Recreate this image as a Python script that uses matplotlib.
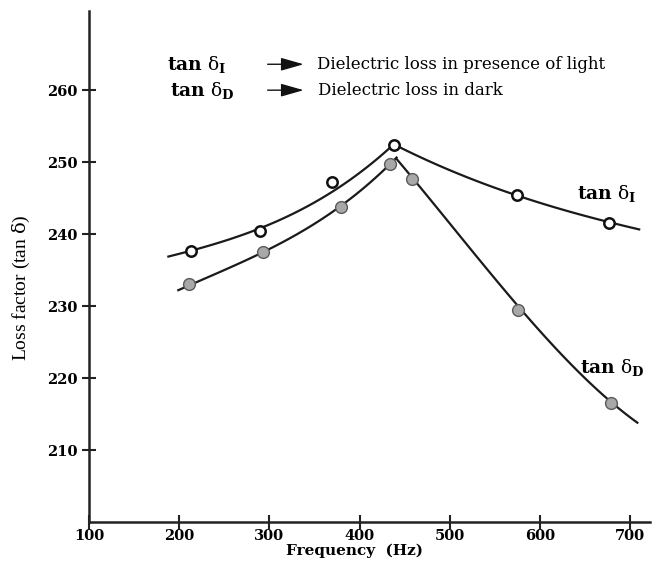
import numpy as np
import matplotlib
matplotlib.use('Agg')
from matplotlib import pyplot as plt

plt.rcParams['mathtext.fontset'] = 'custom'
plt.rcParams['mathtext.rm'] = 'DejaVu Serif'
plt.rcParams['mathtext.bf'] = 'DejaVu Serif:bold'
plt.rcParams['mathtext.it'] = 'DejaVu Serif:italic'

# measured points, tan delta in light (open circles)
freq_light = [213, 290, 369, 438, 574, 676]
loss_light = [237.6, 240.4, 247.2, 252.4, 245.4, 241.6]

# measured points, tan delta in dark (filled circles)
freq_dark = [211, 293, 379, 434, 458, 576, 679]
loss_dark = [233.0, 237.5, 243.8, 249.7, 247.6, 229.5, 216.6]

# drawn trend lines (two branches each)
trace_light_up_f = [188, 213, 255, 290, 337, 378, 410, 438]
trace_light_up_v = [236.9, 237.7, 239.1, 241.0, 243.5, 246.5, 249.5, 252.5]
trace_light_dn_f = [438, 500, 574, 622, 676, 710]
trace_light_dn_v = [252.5, 248.8, 245.5, 243.5, 241.6, 240.7]

trace_dark_up_f = [199, 211, 293, 337, 379, 410, 434, 441]
trace_dark_up_v = [232.1, 233.0, 237.5, 240.4, 243.8, 247.2, 249.7, 250.6]
trace_dark_dn_f = [441, 458, 500, 540, 576, 622, 679, 708]
trace_dark_dn_v = [250.6, 247.6, 241.7, 235.5, 229.5, 223.8, 216.6, 213.8]

xticks = [100, 200, 300, 400, 500, 600, 700]
yticks = [210, 220, 230, 240, 250, 260]

fig = plt.figure(figsize=(6.56, 5.62), dpi=100)
ax = fig.add_axes([89/656, 40/562, 561/656, 511/562])


def smooth(f, v, deg=3):
    c = np.polyfit(f, v, deg)
    xs = np.linspace(f[0], f[-1], 100)
    return xs, np.polyval(c, xs)


for f, v in [(trace_light_up_f, trace_light_up_v), (trace_light_dn_f, trace_light_dn_v),
             (trace_dark_up_f, trace_dark_up_v), (trace_dark_dn_f, trace_dark_dn_v)]:
    xs, ys = smooth(f, v)
    ax.plot(xs, ys, color='#1a1a1a', lw=1.6, zorder=2)

ax.plot(freq_light, loss_light, 'o', ms=7.5, mfc='white', mec='#111111', mew=1.8, zorder=3)
ax.plot(freq_dark, loss_dark, 'o', ms=8.5, mfc='#a8a8a8', mec='#5a5a5a', mew=1.0, zorder=3)

ax.set_xlim(100, 722)
ax.set_ylim(200, 271)
ax.set_xticks(xticks)
ax.set_yticks(yticks)
ax.spines['top'].set_visible(False)
ax.spines['right'].set_visible(False)
for s in ['left', 'bottom']:
    ax.spines[s].set_linewidth(1.8)
    ax.spines[s].set_color('#222222')
ax.tick_params(direction='inout', length=10, width=1.5, color='#222222')
ax.tick_params(axis='x', pad=0)
ax.tick_params(axis='y', pad=3)
for lab in ax.get_xticklabels() + ax.get_yticklabels():
    lab.set_fontfamily('DejaVu Serif')
    lab.set_fontweight('bold')
    lab.set_fontsize(10.5)

ax.set_xlabel('Frequency  (Hz)', family='DejaVu Serif', weight='bold', fontsize=11)
ax.xaxis.set_label_coords(0.474, -0.042)
ax.set_ylabel(r'Loss factor (tan $\mathrm{\delta}$)', family='Liberation Serif', fontsize=14)
ax.yaxis.set_label_coords(-0.102, 0.458)

# legend text in the upper left
ax.text(187, 263.5, r'$\mathbf{tan}\ \mathrm{\delta}_{\mathbf{I}}$', fontsize=13.5, va='center')
ax.text(190, 260.0, r'$\mathbf{tan}\ \mathrm{\delta}_{\mathbf{D}}$', fontsize=13.5, va='center')
for yv in [263.6, 260.0]:
    ax.annotate('', xy=(341, yv), xytext=(295, yv),
                arrowprops=dict(arrowstyle='-|>,head_length=1.4,head_width=0.4', color='#111111', lw=1.0))
ax.text(353, 263.6, 'Dielectric loss in presence of light', family='DejaVu Serif', fontsize=12, va='center')
ax.text(354, 260.0, 'Dielectric loss in dark', family='DejaVu Serif', fontsize=12, va='center')

# curve labels
ax.text(641, 245.6, r'$\mathbf{tan}\ \mathrm{\delta}_{\mathbf{I}}$', fontsize=13.5, va='center')
ax.text(644, 221.5, r'$\mathbf{tan}\ \mathrm{\delta}_{\mathbf{D}}$', fontsize=13.5, va='center', clip_on=False)

fig.savefig('out.png', dpi=100)
